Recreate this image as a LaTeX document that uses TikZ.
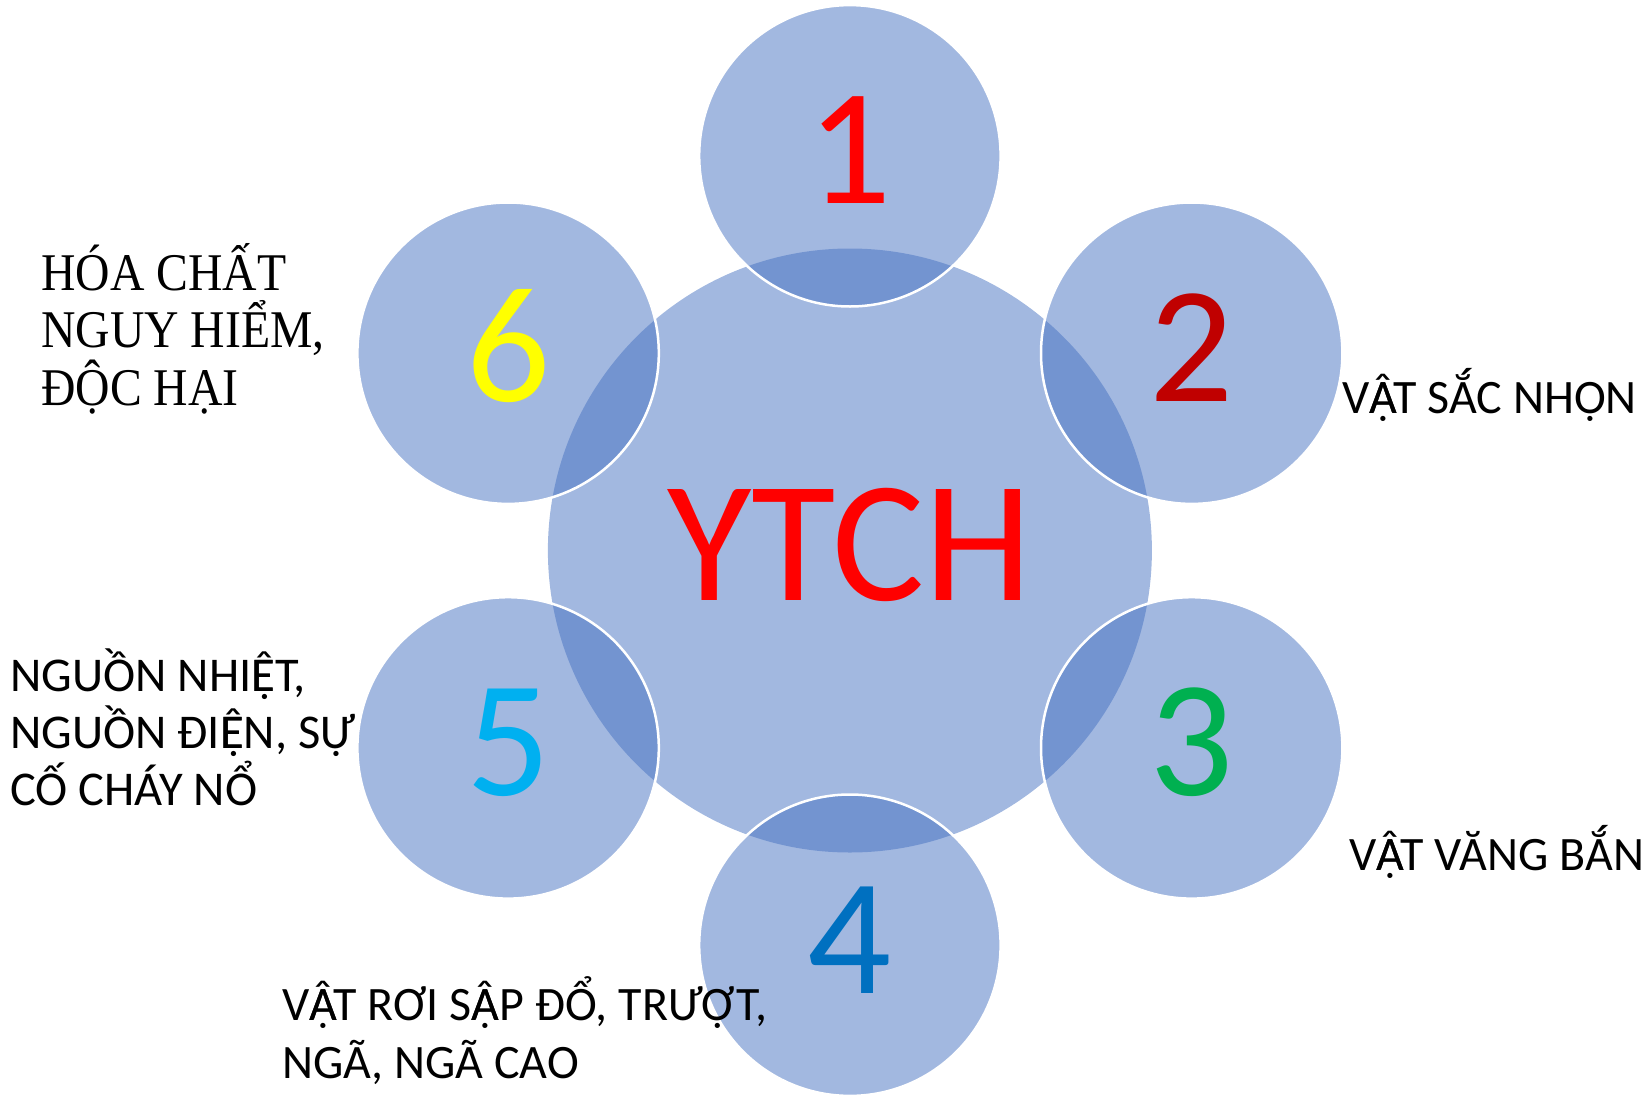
\documentclass[tikz,border=0pt]{standalone}
\usepackage{fontspec}
\setmainfont{Carlito}
\newfontfamily\timesf[FakeStretch=0.9]{Liberation Serif}
\definecolor{circfill}{HTML}{4571C1}
\definecolor{dred}{HTML}{C00000}
\definecolor{dgreen}{HTML}{00B050}
\definecolor{dblue}{HTML}{0070C0}
\definecolor{lblue}{HTML}{00B0F0}
\definecolor{dyellow}{HTML}{FFFF00}
\newcommand{\mlines}[3]{\parbox[t]{#1}{\lineskiplimit=-1000pt\raggedright #2 #3}}
\newcommand{\Adc}{\rlap{Â}Ạ}
\newcommand{\Edc}{\rlap{Ê}Ẹ}
\begin{document}
\begin{tikzpicture}[x=1pt,y=-1pt,
  hubcircle/.style={circle, minimum size=604pt, inner sep=0pt, fill=circfill, fill opacity=0.5, draw=none},
  satcircle/.style={circle, minimum size=301.4pt, inner sep=0pt, fill=circfill, fill opacity=0.5, draw=white, line width=2.5pt},
  digit/.style={anchor=base, inner sep=0pt, font=\fontsize{166}{180}\selectfont},
  lab/.style={anchor=base west, inner sep=0pt, text=black, font=\fontsize{48}{57}\selectfont}]
\useasboundingbox (0,0) rectangle (1652,1095);
\node[hubcircle] (hub) at (849.9,550.5) {};
\node[satcircle] (s1) at (849.9,155.8) {};
\node[satcircle] (s2) at (1191.7,353.2) {};
\node[satcircle] (s3) at (1191.7,747.9) {};
\node[satcircle] (s4) at (849.9,945.2) {};
\node[satcircle] (s5) at (508.1,747.9) {};
\node[satcircle] (s6) at (508.1,353.2) {};
\node[anchor=base, inner sep=0pt, text=red, font=\fontsize{173}{190}\selectfont] (ytch) at (850,600) {YTCH};
\node[digit, text=red] (d1) at (849.9,203.8) {1};
\node[digit, text=dred] (d2) at (1191.7,401.2) {2};
\node[digit, text=dgreen] (d3) at (1191.7,795.9) {3};
\node[digit, text=dblue] (d4) at (849.9,993.2) {4};
\node[digit, text=lblue] (d5) at (508.1,795.9) {5};
\node[digit, text=dyellow] (d6) at (508.1,401.2) {6};
\node[lab] (l2) at (1342,413) {V\Adc T SẮC NHỌN};
\node[lab] (l3) at (1349,870) {V\Adc T VĂNG BẮN};
\node[lab] (l4) at (282,1020) {\mlines{600pt}{\fontsize{48}{58}\selectfont}{V\Adc T RƠI S\Adc P ĐỔ, TRƯỢT,\\NGÃ, NGÃ CAO}};
\node[lab] (l5) at (10,691.7) {\mlines{400pt}{\fontsize{48.5}{57}\selectfont}{NGUỒN NHI\Edc T,\\NGUỒN ĐI\Edc N, SỰ\\CỐ CHÁY NỔ}};
\node[lab] (l6) at (41,290) {\mlines{400pt}{\timesf\fontsize{53}{57.5}\selectfont}{HÓA CHẤT\\NGUY HIỂM,\\ĐỘC HẠI}};
\end{tikzpicture}
\end{document}
